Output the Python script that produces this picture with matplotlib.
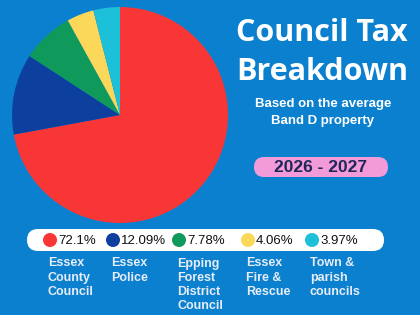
import matplotlib.pyplot as plt
from matplotlib.patches import FancyBboxPatch, Circle

# data
shares = [72.1, 12.09, 7.78, 4.06, 3.97]
share_labels = ['72.1%', '12.09%', '7.78%', '4.06%', '3.97%']
names = ['Essex\nCounty\nCouncil', 'Essex\nPolice', 'Epping\nForest\nDistrict\nCouncil',
         'Essex\nFire &\nRescue', 'Town &\nparish\ncouncils']
colors = ['#f93636', '#0d3f9e', '#0f9a5c', '#fbd85a', '#1cc0d9']
bg = '#0b80cf'

fig = plt.figure(figsize=(4.2, 3.15), dpi=100)
fig.patch.set_facecolor(bg)

# pie, pixel layout
cx, cy, r = 120, 115, 108
pax = fig.add_axes([(cx - r) / 420, (315 - cy - r) / 315, 2 * r / 420, 2 * r / 315])
pax.pie(shares, colors=colors, startangle=90, counterclock=False,
        wedgeprops=dict(linewidth=0))
pax.set_aspect('auto')
pax.set_xlim(-1, 1)
pax.set_ylim(-1, 1)
pax.axis('off')

# overlay in pixel coords
ax = fig.add_axes([0, 0, 1, 1])
ax.set_xlim(0, 420)
ax.set_ylim(315, 0)
ax.axis('off')
ax.patch.set_alpha(0)

ax.text(322, 33, 'Council Tax', color='white', fontsize=22, fontweight='bold',
        family='Open Sans', ha='center', va='center')
ax.text(322, 72, 'Breakdown', color='white', fontsize=22, fontweight='bold',
        family='Open Sans', ha='center', va='center')
ax.text(323, 104, 'Based on the average', color='white', fontsize=9.5, fontweight='bold',
        family='Liberation Sans', ha='center', va='center')
ax.text(323, 121, 'Band D property', color='white', fontsize=9.5, fontweight='bold',
        family='Liberation Sans', ha='center', va='center')

ax.add_patch(FancyBboxPatch((254, 157), 134, 20, boxstyle='round,pad=0,rounding_size=10',
                            fc='#f39bd9', ec='none'))
ax.text(320, 167.5, '2026 - 2027', color='#1f2758', fontsize=12.5, fontweight='bold',
        family='Liberation Sans', ha='center', va='center')

# legend bar
ax.add_patch(FancyBboxPatch((27, 229), 357, 22, boxstyle='round,pad=0,rounding_size=11',
                            fc='white', ec='none'))
dot_x = [50, 113, 179, 248, 312]
for x, c, lab, nm in zip(dot_x, colors, share_labels, names):
    ax.add_patch(Circle((x, 240), 7, fc=c, ec='none'))
    ax.text(x + 8, 240.5, lab, fontsize=9.5, color='#111111', family='Liberation Sans',
            ha='left', va='center')
    ax.text(x - 2, 257.5, nm, fontsize=9, color='#e6edf8', fontweight='bold',
            family='Liberation Sans', ha='left', va='top', linespacing=1.24)

fig.savefig('out.png', dpi=100, facecolor=bg)
